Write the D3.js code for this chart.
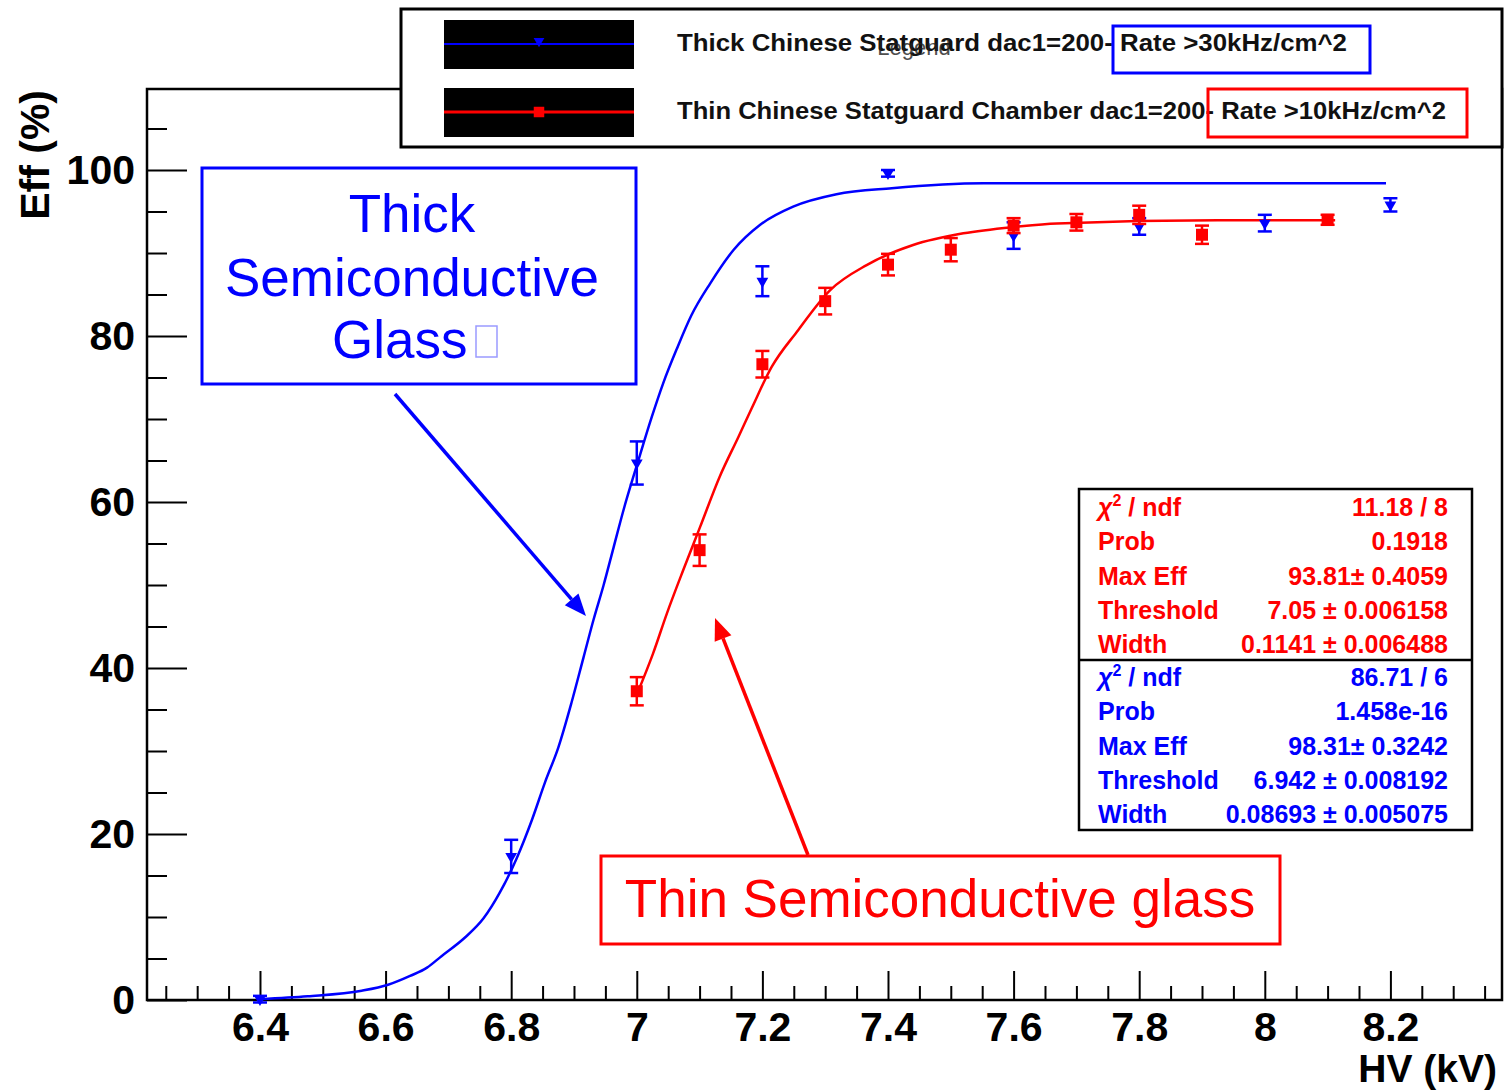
<!DOCTYPE html>
<meta charset="utf-8">
<html>
<head>
  <script src="https://d3js.org/d3.v7.min.js"></script>
  <style>
    body { margin: 0; background: #fff; font-family: "Liberation Sans", Arial, sans-serif; }
    .tick text { font-family: "Liberation Sans", Arial, sans-serif; font-weight: bold; font-size: 41px; fill: #000; }
    .stats text { font-family: "Liberation Sans", Arial, sans-serif; font-weight: bold; font-size: 25px; }
  </style>
</head>
<body>
  <svg width="1504" height="1090"></svg>

  <script>
    // measured points
    const blueHV  = [6.4, 6.8, 7.0, 7.2, 7.4, 7.6, 7.8, 8.0, 8.2];
    const blueEff = [0.1, 17.3, 64.7, 86.6, 99.6, 92.1, 93.2, 93.6, 95.8];
    const blueErr = [0.4, 2.0, 2.6, 1.8, 0.4, 1.6, 1.0, 1.0, 0.8];

    const redHV  = [7.0, 7.1, 7.2, 7.3, 7.4, 7.5, 7.6, 7.7, 7.8, 7.9, 8.1];
    const redEff = [37.2, 54.2, 76.6, 84.2, 88.6, 90.4, 93.3, 93.7, 94.6, 92.2, 94.0];
    const redErr = [1.7, 1.9, 1.6, 1.6, 1.3, 1.4, 0.9, 1.0, 1.1, 1.1, 0.6];

    // fit curves
    const blueFitHV  = [6.40, 6.476, 6.562, 6.604, 6.639, 6.666, 6.689, 6.726, 6.756, 6.782, 6.809, 6.833, 6.854, 6.875,
                        6.896, 6.915, 6.931, 6.947, 6.963, 6.979, 7.002, 7.024, 7.042, 7.064, 7.087, 7.117, 7.154, 7.196,
                        7.249, 7.318, 7.406, 7.552, 7.706, 8.193];
    const blueFitEff = [0.1, 0.45, 1.12, 1.84, 2.9, 3.9, 5.28, 7.5, 9.84, 12.96, 17.12, 21.69, 26.25, 30.41,
                        35.81, 41.22, 45.78, 49.94, 54.51, 59.07, 64.89, 70.28, 74.3, 78.5, 82.5, 86.35, 90.36, 93.37,
                        95.58, 97.07, 97.80, 98.40, 98.40, 98.40];

    const redFitHV  = [7.0, 7.026, 7.048, 7.074, 7.101, 7.132, 7.162, 7.183, 7.215, 7.255, 7.308, 7.366, 7.440, 7.520,
                       7.605, 7.669, 7.925, 8.112];
    const redFitEff = [36.8, 41.77, 46.59, 51.81, 57.03, 63.05, 67.87, 71.3, 76.3, 80.52, 85.54, 88.55, 90.96, 92.37,
                       93.17, 93.57, 93.94, 93.94];

    const xMajor = [6.4, 6.6, 6.8, 7.0, 7.2, 7.4, 7.6, 7.8, 8.0, 8.2];
    const yMajor = [0, 20, 40, 60, 80, 100];

    const legendLabels = ["Thick Chinese Statguard dac1=200- Rate >30kHz/cm^2",
                          "Thin Chinese Statguard Chamber dac1=200- Rate >10kHz/cm^2"];
    const statNames = ["ndf", "Prob", "Max Eff", "Threshold", "Width"];
    const redStats  = ["11.18 / 8", "0.1918", "93.81\u00b1 0.4059", "7.05 \u00b1 0.006158", "0.1141 \u00b1 0.006488"];
    const blueStats = ["86.71 / 6", "1.458e-16", "98.31\u00b1 0.3242", "6.942 \u00b1 0.008192", "0.08693 \u00b1 0.005075"];

    const BLUE = "#0000ff", RED = "#ff0000";
    const frame = {left: 147, right: 1502, top: 89, bottom: 1000};

    const svg = d3.select("svg");

    const x = d3.scaleLinear().domain([6.2201, 8.3777]).range([frame.left, frame.right]);
    const y = d3.scaleLinear().domain([0, 109.76]).range([frame.bottom, frame.top]);

    // frame
    svg.append("rect")
        .attr("x", frame.left).attr("y", frame.top)
        .attr("width", frame.right - frame.left).attr("height", frame.bottom - frame.top)
        .attr("fill", "none").attr("stroke", "#000").attr("stroke-width", 2.5);

    // x axis, ticks pointing in
    const xMinor = d3.range(6.25, 8.38, 0.05).filter(v => !xMajor.some(m => Math.abs(m - v) < 1e-6));
    svg.append("g")
        .attr("transform", `translate(0,${frame.bottom})`)
        .call(d3.axisBottom(x).tickValues(xMinor).tickSizeInner(-14).tickSizeOuter(0).tickFormat(""))
        .call(g => g.select(".domain").remove())
        .call(g => g.selectAll("line").attr("stroke-width", 2));
    svg.append("g")
        .attr("transform", `translate(0,${frame.bottom})`)
        .call(d3.axisBottom(x).tickValues(xMajor).tickSizeInner(-29).tickSizeOuter(0).tickPadding(12).tickFormat(d3.format("")))
        .call(g => g.select(".domain").remove())
        .call(g => g.selectAll("line").attr("stroke-width", 2));

    // y axis
    const yMinor = d3.range(5, 106, 5).filter(v => v % 20 !== 0);
    svg.append("g")
        .attr("transform", `translate(${frame.left},0)`)
        .call(d3.axisLeft(y).tickValues(yMinor).tickSizeInner(-20).tickSizeOuter(0).tickFormat(""))
        .call(g => g.select(".domain").remove())
        .call(g => g.selectAll("line").attr("stroke-width", 2));
    svg.append("g")
        .attr("transform", `translate(${frame.left},0)`)
        .call(d3.axisLeft(y).tickValues(yMajor).tickSizeInner(-40).tickSizeOuter(0).tickPadding(12))
        .call(g => g.select(".domain").remove())
        .call(g => g.selectAll("line").attr("stroke-width", 2));

    svg.append("text")
        .attr("transform", "translate(49,90) rotate(-90)")
        .attr("text-anchor", "end")
        .style("font-weight", "bold").style("font-size", "41px")
        .text("Eff (%)");
    svg.append("text")
        .attr("x", 1497).attr("y", 1082)
        .attr("text-anchor", "end")
        .style("font-weight", "bold").style("font-size", "39px")
        .text("HV (kV)");

    // fit curves
    const line = d3.line().x(d => x(d[0])).y(d => y(d[1])).curve(d3.curveMonotoneX);
    svg.append("path")
        .datum(d3.zip(blueFitHV, blueFitEff))
        .attr("d", line).attr("fill", "none").attr("stroke", BLUE).attr("stroke-width", 2.5);
    svg.append("path")
        .datum(d3.zip(redFitHV, redFitEff))
        .attr("d", line).attr("fill", "none").attr("stroke", RED).attr("stroke-width", 2.5);

    function drawPoints(hv, eff, err, color, symbol, size, rot) {
      const pts = d3.zip(hv, eff, err);
      const g = svg.append("g").attr("stroke", color).attr("fill", color);
      g.selectAll(".bar").data(pts).enter().append("line")
          .attr("x1", d => x(d[0])).attr("x2", d => x(d[0]))
          .attr("y1", d => y(d[1] - d[2])).attr("y2", d => y(d[1] + d[2]))
          .attr("stroke-width", 2.5);
      ["lo", "hi"].forEach((k, i) => {
        g.selectAll(".cap" + k).data(pts).enter().append("line")
            .attr("x1", d => x(d[0]) - 7).attr("x2", d => x(d[0]) + 7)
            .attr("y1", d => y(d[1] + (i ? d[2] : -d[2])))
            .attr("y2", d => y(d[1] + (i ? d[2] : -d[2])))
            .attr("stroke-width", 2.5);
      });
      g.selectAll(".mk").data(pts).enter().append("path")
          .attr("d", d3.symbol().type(symbol).size(size))
          .attr("stroke", "none")
          .attr("transform", d => `translate(${x(d[0])},${y(d[1])}) rotate(${rot})`);
    }
    drawPoints(blueHV, blueEff, blueErr, BLUE, d3.symbolTriangle, 60, 180);
    drawPoints(redHV, redEff, redErr, RED, d3.symbolSquare, 144, 0);

    // legend
    const leg = svg.append("g");
    leg.append("rect").attr("x", 401).attr("y", 9).attr("width", 1101).attr("height", 138)
        .attr("fill", "#fff").attr("stroke", "#000").attr("stroke-width", 3);
    const legRows = [
      {y: 20, ly: 44, color: BLUE, sym: d3.symbolTriangle, size: 50, rot: 180, lw: 2, tx: 51, box: [1113, 26, 257, 47]},
      {y: 88, ly: 112, color: RED, sym: d3.symbolSquare, size: 110, rot: 0, lw: 3, tx: 119, box: [1208, 89, 259, 48]}
    ];
    const textLens = [670, 769];
    legRows.forEach((r, i) => {
      leg.append("rect").attr("x", 444).attr("y", r.y).attr("width", 190).attr("height", 49).attr("fill", "#000");
      leg.append("line").attr("x1", 444).attr("x2", 634).attr("y1", r.ly).attr("y2", r.ly)
          .attr("stroke", r.color).attr("stroke-width", r.lw);
      leg.append("path").attr("d", d3.symbol().type(r.sym).size(r.size)())
          .attr("fill", r.color).attr("transform", `translate(539,${r.ly - (i ? 0 : 3)}) rotate(${r.rot})`);
      leg.append("text").attr("x", 677).attr("y", r.tx)
          .attr("textLength", textLens[i]).attr("lengthAdjust", "spacingAndGlyphs")
          .style("font-weight", "bold").style("font-size", "23px").style("fill", "#111")
          .text(legendLabels[i]);
      leg.append("rect").attr("x", r.box[0]).attr("y", r.box[1]).attr("width", r.box[2]).attr("height", r.box[3])
          .attr("fill", "none").attr("stroke", r.color).attr("stroke-width", 3);
    });
    // legend header, drawn over the first entry as in the original
    leg.append("text").attr("x", 914).attr("y", 55).attr("text-anchor", "middle")
        .style("font-size", "22px").style("fill", "#222").style("opacity", 0.8)
        .text("Legend");

    // fit statistics boxes
    const stats = svg.append("g").attr("class", "stats");
    stats.append("rect").attr("x", 1079).attr("y", 489).attr("width", 393).attr("height", 341)
        .attr("fill", "#fff").attr("stroke", "#000").attr("stroke-width", 2.5);
    stats.append("line").attr("x1", 1079).attr("x2", 1472).attr("y1", 660).attr("y2", 660)
        .attr("stroke", "#000").attr("stroke-width", 2.5);
    [[redStats, RED, 516], [blueStats, BLUE, 686]].forEach(([vals, color, y0]) => {
      vals.forEach((v, i) => {
        const ty = y0 + i * 34.3;
        const nm = stats.append("text").attr("x", 1098).attr("y", ty).attr("fill", color);
        if (i === 0) {
          nm.append("tspan").style("font-style", "italic").text("\u03c7");
          nm.append("tspan").attr("dy", -10).style("font-size", "16px").text("2");
          nm.append("tspan").attr("dy", 10).text(" / " + statNames[0]);
        } else {
          nm.text(statNames[i]);
        }
        stats.append("text").attr("x", 1448).attr("y", ty).attr("text-anchor", "end")
            .attr("fill", color).text(v);
      });
    });

    // annotations
    const ann = svg.append("g");
    ann.append("rect").attr("x", 202).attr("y", 168).attr("width", 434).attr("height", 216)
        .attr("fill", "none").attr("stroke", BLUE).attr("stroke-width", 3);
    [["Thick", 232], ["Semiconductive", 296]].forEach(([t, ty]) => {
      ann.append("text").attr("x", 412).attr("y", ty).attr("text-anchor", "middle")
          .style("font-size", "53px").attr("fill", BLUE).text(t);
    });
    ann.append("text").attr("x", 332).attr("y", 358)
        .style("font-size", "53px").attr("fill", BLUE).text("Glass");
    ann.append("rect").attr("x", 476).attr("y", 326).attr("width", 21).attr("height", 31)
        .attr("fill", "none").attr("stroke", "#9a9aff").attr("stroke-width", 1.5);

    ann.append("rect").attr("x", 601).attr("y", 856).attr("width", 679).attr("height", 88)
        .attr("fill", "none").attr("stroke", RED).attr("stroke-width", 3);
    ann.append("text").attr("x", 940).attr("y", 917).attr("text-anchor", "middle")
        .style("font-size", "53px").attr("fill", RED).text("Thin Semiconductive glass");

    function arrow(x1, y1, x2, y2, color) {
      const a = Math.atan2(y2 - y1, x2 - x1), len = 22, half = 9;
      const bx = x2 - len * Math.cos(a), by = y2 - len * Math.sin(a);
      ann.append("line").attr("x1", x1).attr("y1", y1).attr("x2", bx).attr("y2", by)
          .attr("stroke", color).attr("stroke-width", 3.5);
      const p = [[x2, y2],
                 [bx + half * Math.sin(a), by - half * Math.cos(a)],
                 [bx - half * Math.sin(a), by + half * Math.cos(a)]];
      ann.append("path").attr("d", "M" + p.join("L") + "Z").attr("fill", color);
    }
    arrow(395, 394, 586, 616, BLUE);
    arrow(808, 855, 715, 618, RED);
  </script>
</body>
</html>
